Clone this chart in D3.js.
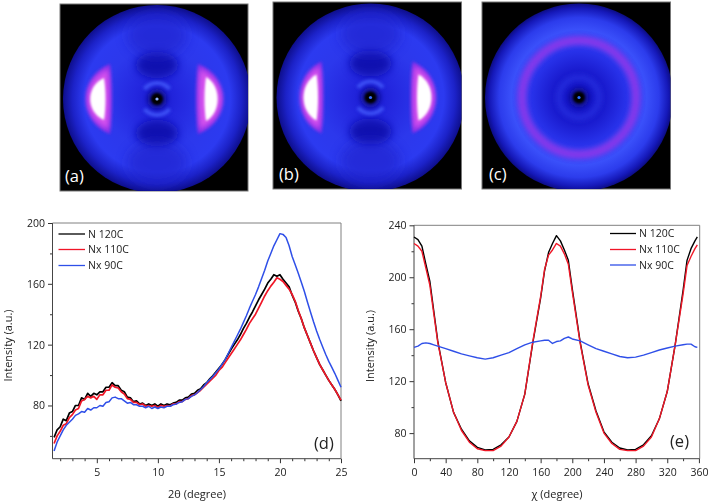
<!DOCTYPE html>
<html><head><meta charset="utf-8">
<script src="https://d3js.org/d3.v7.min.js"></script>
<style>html,body{margin:0;padding:0;background:#fff}svg{display:block}text{font-family:"Open Sans",sans-serif;fill:#222}</style>
</head><body><svg id="c" width="709" height="503"></svg>
<script>
const seriesNames = ["N 120C","Nx 110C","Nx 90C"];
const seriesColors = ["#000000","#f01828","#2f4fe8"];
const panelLabels = ["(a)","(b)","(c)","(d)","(e)"];

const twoTheta = [1.5,1.75,
2,2.25,2.5,2.75, 3,3.25,3.5,3.75, 4,4.25,4.5,4.75, 5,5.25,5.5,5.75, 6,6.25,6.5,6.75,
7,7.25,7.5,7.75, 8,8.25,8.5,8.75, 9,9.25,9.5,9.75, 10,10.25,10.5,10.75, 11,11.25,11.5,11.75,
12,12.25,12.5,12.75, 13,13.25,13.5,13.75, 14,14.25,14.5,14.75, 15,15.25,15.5,15.75, 16,16.25,16.5,16.75,
17,17.25,17.5,17.75, 18,18.25,18.5,18.75, 19,19.25,19.5,19.75, 20,20.25,20.5,20.75, 21,21.25,21.5,21.75,
22,22.25,22.5,22.75, 23,23.25,23.5,23.75, 24,24.25,24.5,24.75, 25];
const dN120 = [59,64,
66,71,70,75, 76,80,80,85, 84,88,86,88, 87,89,89,92, 92,95,93,93,
90,89,85.5,85, 82.5,83,81,81.5, 80,81,80,81, 79.5,81,80,81, 80.5,81.5,82,83.5,
83.5,85,85.5,87.5, 88,90,91,93.5, 95,97.5,99.5,102, 104.5,107,110,113.5, 117,120,123,126.5,
130.5,134,138,141.5, 145.5,149.5,153,156.5, 160.5,163,166,165, 166,163,160.5,158, 152.5,148,142,137,
131,126,121,116, 111.5,107,103.5,100, 96.5,93.5,90.5,87, 83];
const dNx110 = [55,60,
63,67,68,72, 74,77,78,83, 84,86,85,86, 84,87,87,90, 90,93.5,92,91.5,
89,87.5,84.5,84, 82,82,80.5,81, 79.5,80,79.5,80, 78.5,80,79.5,80, 79.5,81,81,82.5,
82.5,84,84.5,86.5, 87,88.5,90,92, 94,96,98,100, 103,105,108,111, 114,117,120,123,
126.5,130,134,137, 140,144,148,152, 155.5,158.5,161,164, 163,161.5,159,156.5, 153,148.5,142.5,137,
131,126,121,116, 111.5,107,103.5,100, 96.5,93.5,90.5,87, 83.5];
const dNx90 = [50,56,
60,64,67,69, 71,73.5,74.5,76, 75.5,78,77,78.5, 78.5,80,79.5,82, 82.5,85,85.5,84.5,
84.5,83,81.5,82, 80.5,80.5,79.5,79.5, 78.5,79.5,78,79, 78,79,78.5,79.5, 79.5,80.5,81,82,
82.5,84,84.5,86, 87,88.5,90.5,92.5, 95,97,99,101.5, 104,107,110,114, 118,122,126,130,
134.5,139,144,148.5, 153,158,163.5,169, 175,180,185,189, 193,192.5,190.5,185, 178,172.5,167,161,
155,148,141.5,135, 129,123.5,118.5,113.5, 109,105,101,96.5, 92];

const chi = [0,5,10,15,20,25,30,40,50,60,70,80,90,100,110,120,130,140,150,160,165,170,175,180,185,190,195,200,210,220,230,240,250,260,270,280,290,300,310,320,330,340,345,350,355,358];
const eN120 = [231,229,224,210,197,174,151,119,96,83,74,69,67,67.5,71,77,89,110,149,184,205,219,226,232,228,221,213,191,150,118,97,81,73,68.5,67,67.5,71,78,91,112,148,190,213,222,228,231];
const eNx110 = [226,224,220,207,194,172,150,119,96,82,73,68,66.5,66.5,70,77,89,110,150,185,206,217,221,226,224,218,210,189,149,117,96,80,72,67.5,66.5,66.5,70,77,91,112,148,187,209,216,222,225];
const eChi90 = [146,147,149,149.5,149,148,147,145,143,141,139.5,138,137,138,140,142,145,148,150,151,151.5,151.5,149,150.5,151,153,154,152.5,151,148,145,143,141,139,138,138.5,140,142,144,145.5,147,148,148.5,148.5,146.5,146];

const ticksD = {x:[5,10,15,20,25], xMinor:[2,3,4,6,7,8,9,11,12,13,14,16,17,18,19,21,22,23,24], y:[80,120,160,200], yMinor:[60,100,140,180]};
const ticksE = {x:[0,40,80,120,160,200,240,280,320,360], xMinor:[20,60,100,140,180,220,260,300,340], y:[80,120,160,200,240], yMinor:[100,140,180,220]};

const svg = d3.select("#c");
const defs = svg.append("defs");
[0.3,1,1.5,2.5,4,6,9].forEach(s=>{
  defs.append("filter").attr("id","b"+String(s).replace(".","_")).attr("x","-60%").attr("y","-60%").attr("width","220%").attr("height","220%")
    .append("feGaussianBlur").attr("stdDeviation",s);
});
const blur = s=>"url(#b"+String(s).replace(".","_")+")";
function radial(id,stops){
  const g=defs.append("radialGradient").attr("id",id).attr("cx","50%").attr("cy","50%").attr("r","50%");
  stops.forEach(([o,c])=>g.append("stop").attr("offset",o).attr("stop-color",c));
}
radial("discAB",[[0,"#1a1ad0"],[.25,"#2428e0"],[.55,"#2c38ec"],[.78,"#2c3af0"],[.9,"#1c22c8"],[1,"#0e0e8c"]]);
radial("discC",[[0,"#1414c4"],[.3,"#1a1cd0"],[.5,"#2832ea"],[.72,"#3a50fa"],[.85,"#2c3cec"],[.95,"#1518b8"],[1,"#0c0c84"]]);

/* SAXS/WAXS frames */
const frames = [
 {x:60,y:4,w:188,h:187,cx:157,cy:99,r:94,kind:"lobes",dot:"#8fb0ff",lab:[65,182],
  left:{inner:47,outer:75,hy:35,ci:53,co:69,chy:21},right:{inner:41,outer:70,hy:35,ci:49,co:62.5,chy:22}},
 {x:273,y:2,w:188.5,h:187,cx:370.5,cy:97.5,r:94,kind:"lobes",dot:"#3a70ff",lab:[279,180],
  left:{inner:49,outer:74,hy:36,ci:54,co:69,chy:23},right:{inner:42,outer:69,hy:36,ci:48,co:63,chy:23}},
 {x:482,y:2,w:188.5,h:187,cx:579,cy:97.5,r:94,kind:"ring",dot:"#2a70ff",lab:[489,180]}
];
function crescent(side,inner,outer,hy){
  const p=d3.path();
  p.moveTo(side*inner,-hy);
  p.bezierCurveTo(side*(outer+(outer-inner)*.15),-hy*.62,side*(outer+(outer-inner)*.15),hy*.62,side*inner,hy);
  p.bezierCurveTo(side*(inner-2),hy*.4,side*(inner-2),-hy*.4,side*inner,-hy);
  return p.toString();
}
frames.forEach((f,i)=>{
  const clipId="fr"+i;
  defs.append("clipPath").attr("id",clipId).append("rect").attr("x",f.x).attr("y",f.y).attr("width",f.w).attr("height",f.h);
  const g=svg.append("g");
  g.append("rect").attr("x",f.x).attr("y",f.y).attr("width",f.w).attr("height",f.h).attr("fill","#000").attr("stroke","#777").attr("stroke-width",1);
  const q=g.append("g").attr("clip-path","url(#"+clipId+")").append("g").attr("transform","translate("+f.cx+","+f.cy+")");
  q.append("circle").attr("r",f.r).attr("fill","url(#"+(f.kind==="ring"?"discC":"discAB")+")");
  if(f.kind==="lobes"){
    [-1,1].forEach(s=>{
      q.append("ellipse").attr("cx",0).attr("cy",s*34).attr("rx",21).attr("ry",13).attr("fill","#1010a8").attr("opacity",.85).attr("filter",blur(4));
      q.append("path").attr("d",d3.arc()({innerRadius:14,outerRadius:18,startAngle:(s<0?-1:1)*0+(s<0?-0.9:Math.PI-0.9),endAngle:(s<0?0.9:Math.PI+0.9)})).attr("fill","#3f55f8").attr("opacity",.9).attr("filter",blur(1.5));
      q.append("ellipse").attr("cx",0).attr("cy",s*64).attr("rx",30).attr("ry",22).attr("fill","#1a1cc4").attr("opacity",.5).attr("filter",blur(6));
    });
    [["left",-1],["right",1]].forEach(([k,s])=>{
      const l=f[k];
      q.append("path").attr("d",crescent(s,l.inner,l.outer,l.hy)).attr("fill","#8a2ee8").attr("filter",blur(1.5));
      q.append("path").attr("d",crescent(s,l.inner+2,l.outer-2,l.hy-5)).attr("fill","#dd55ee").attr("opacity",.9).attr("filter",blur(2.5));
      q.append("path").attr("d",crescent(s,l.ci,l.co,l.chy)).attr("fill","#fff").attr("filter",blur(1));
    });
  } else {
    q.append("circle").attr("r",57).attr("fill","none").attr("stroke","#8c38ea").attr("stroke-width",9).attr("opacity",.9).attr("filter",blur(2.5));
    q.append("circle").attr("r",20).attr("fill","none").attr("stroke","#2a34e4").attr("stroke-width",5).attr("opacity",.7).attr("filter",blur(2.5));
  }
  q.append("circle").attr("r",10).attr("fill","#0a0a80").attr("opacity",.8).attr("filter",blur(2.5));
  q.append("circle").attr("r",6).attr("fill","#000").attr("filter",blur(1));
  q.append("circle").attr("r",1.6).attr("fill",f.dot);
  svg.append("text").attr("x",f.lab[0]).attr("y",f.lab[1]).attr("font-size",16.5).style("fill","#fff").text(panelLabels[i]);
});

/* line plots */
const plots = [
 {L:52.5,R:341,T:223,B:458.7,xd:[1.37,25],yd:[45,200],ticks:ticksD,xs:twoTheta,ys:[dN120,dNx110,dNx90],sw:[1.7,1.7,1.5],
  xt:"2θ (degree)",xtx:197,ytx:12,ytc:345.5,lab:[314,449],legX:[58.5,85],legT:88,legY:[234,249.5,265.5],lw:0},
 {L:414,R:699.7,T:225.3,B:458.7,xd:[0,361],yd:[60.3,240],ticks:ticksE,xs:chi,ys:[eN120,eNx110,eChi90],sw:[1.4,1.4,1.4],
  xt:"χ (degree)",xtx:557,ytx:374,ytc:346,lab:[670,447],legX:[610,636],legT:639,legY:[233.5,249.5,265],lw:0}
];
plots.forEach((p,i)=>{
  const g=svg.append("g").attr("filter",blur(0.3));
  const x=d3.scaleLinear().domain(p.xd).range([p.L,p.R]);
  const y=d3.scaleLinear().domain(p.yd).range([p.B,p.T]);
  const ax=(gen,tr)=>{
    const a=g.append("g").attr("transform",tr).call(gen);
    a.select(".domain").remove();
    a.selectAll("line").attr("stroke","#333").attr("stroke-width",1);
    a.selectAll("text").attr("font-size",10.5).style("fill","#222");
    return a;
  };
  ax(d3.axisBottom(x).tickValues(p.ticks.x).tickSize(4.5).tickPadding(5).tickFormat(d3.format("d")),"translate(0,"+p.B+")");
  ax(d3.axisBottom(x).tickValues(p.ticks.xMinor).tickSize(2.5).tickFormat(""),"translate(0,"+p.B+")");
  ax(d3.axisLeft(y).tickValues(p.ticks.y).tickSize(4.5).tickPadding(3).tickFormat(d3.format("d")),"translate("+p.L+",0)");
  ax(d3.axisLeft(y).tickValues(p.ticks.yMinor).tickSize(2.5).tickFormat(""),"translate("+p.L+",0)");
  g.append("path").attr("d",`M${p.L},${p.T}H${p.R}V${p.B}`).attr("fill","none").attr("stroke","#808080").attr("stroke-width",1);
  g.append("path").attr("d",`M${p.L},${p.T}V${p.B}H${p.R}`).attr("fill","none").attr("stroke","#444").attr("stroke-width",1);
  const line=d3.line().x((d,k)=>x(p.xs[k])).y(d=>y(d));
  p.ys.forEach((v,k)=>{
    g.append("path").attr("d",line(v)).attr("fill","none").attr("stroke",seriesColors[k]).attr("stroke-width",p.sw[k]).attr("stroke-linejoin","round");
  });
  seriesNames.forEach((n,k)=>{
    g.append("line").attr("x1",p.legX[0]).attr("x2",p.legX[1]).attr("y1",p.legY[k]).attr("y2",p.legY[k]).attr("stroke",seriesColors[k]).attr("stroke-width",1.3);
    g.append("text").attr("x",p.legT).attr("y",p.legY[k]+3.8).attr("font-size",10.5).text(n);
  });
  g.append("text").attr("x",p.xtx).attr("y",498).attr("text-anchor","middle").attr("font-size",11).text(p.xt);
  g.append("text").attr("transform",`translate(${p.ytx},${p.ytc}) rotate(-90)`).attr("text-anchor","middle").attr("font-size",11).text("Intensity (a.u.)");
  g.append("text").attr("x",p.lab[0]).attr("y",p.lab[1]).attr("font-size",16.5).text(panelLabels[3+i]);
});
</script></body></html>
